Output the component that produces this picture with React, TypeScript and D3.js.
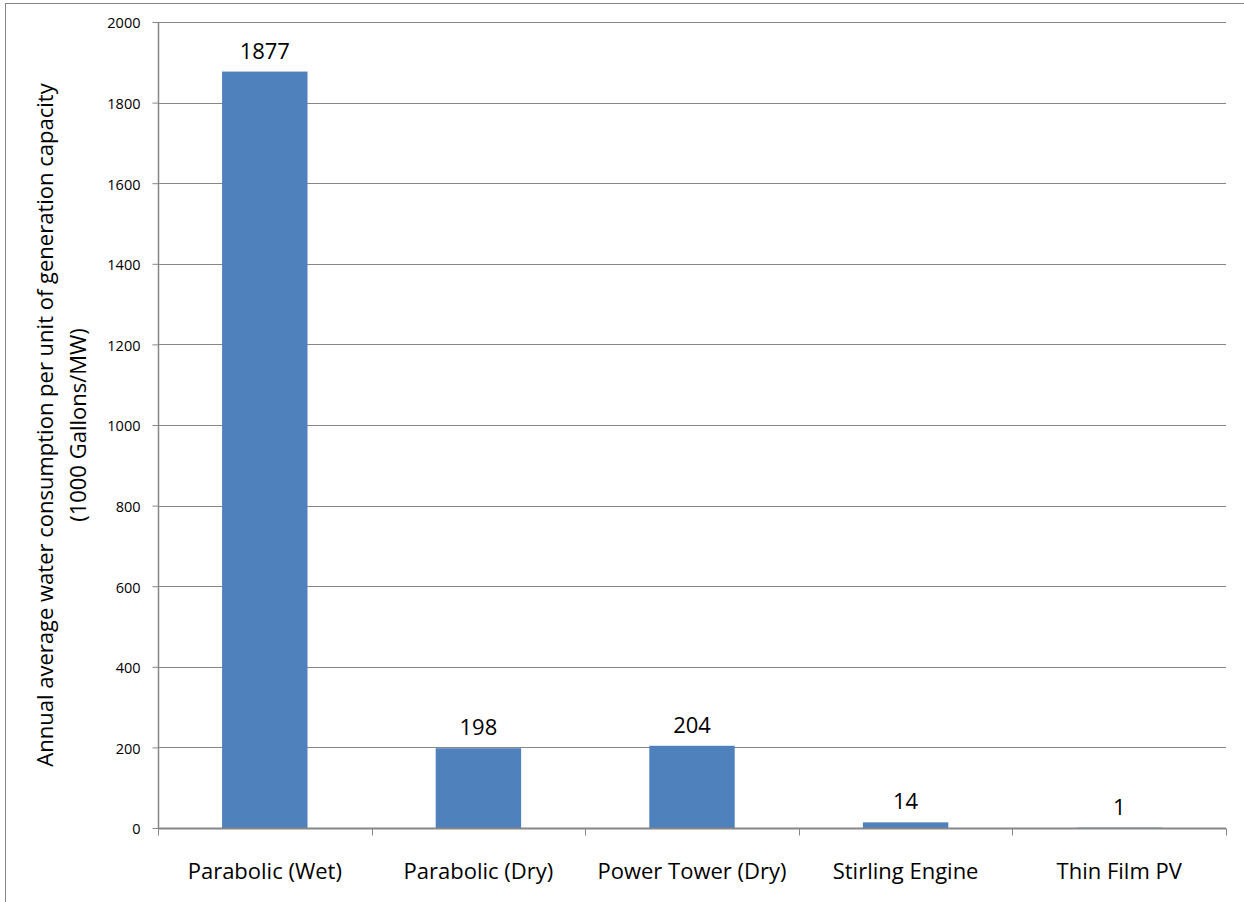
import { useEffect, useRef } from "react"
import * as d3 from "d3"

const categories = [
  "Parabolic (Wet)",
  "Parabolic (Dry)",
  "Power Tower (Dry)",
  "Stirling Engine",
  "Thin Film PV",
]
const values = [1877, 198, 204, 14, 1]
const yTicks = [0, 200, 400, 600, 800, 1000, 1200, 1400, 1600, 1800, 2000]
const yTitle = [
  "Annual average water consumption per unit of generation capacity",
  "(1000 Gallons/MW)",
]

export default function App() {
  const svgRef = useRef<SVGSVGElement | null>(null)

  useEffect(() => {
    if (!svgRef.current) return

    const width = 1244
    const height = 902
    const margin = { top: 22, right: 18, bottom: 74, left: 158 }
    const font = "'Open Sans', Lato, sans-serif"
    const gray = "#868686"

    const svg = d3.select(svgRef.current).attr("width", width).attr("height", height)
    svg.selectAll("*").remove()

    // outer frame (right/bottom edges fall outside the picture)
    svg
      .append("rect")
      .attr("x", 5.5)
      .attr("y", 3.5)
      .attr("width", width + 20)
      .attr("height", height + 20)
      .attr("fill", "white")
      .attr("stroke", gray)
      .attr("stroke-width", 1)

    const x = d3
      .scaleBand<string>()
      .domain(categories)
      .range([margin.left, width - margin.right])
      .paddingInner(0.6)
      .paddingOuter(0.3)

    const y = d3
      .scaleLinear()
      .domain([0, 2000])
      .range([height - margin.bottom, margin.top])

    // gridlines
    svg
      .append("g")
      .selectAll("line")
      .data(yTicks.filter(t => t > 0))
      .join("line")
      .attr("x1", margin.left)
      .attr("x2", width - margin.right)
      .attr("y1", d => Math.round(y(d)) + 0.5)
      .attr("y2", d => Math.round(y(d)) + 0.5)
      .attr("stroke", gray)
      .attr("stroke-width", 1)

    // bars
    svg
      .append("g")
      .selectAll("rect")
      .data(values)
      .join("rect")
      .attr("x", (_, i) => x(categories[i]) ?? 0)
      .attr("width", x.bandwidth())
      .attr("y", d => y(d))
      .attr("height", d => y(0) - y(d))
      .attr("fill", "#4F81BD")

    // data labels
    svg
      .append("g")
      .selectAll("text")
      .data(values)
      .join("text")
      .attr("x", (_, i) => (x(categories[i]) ?? 0) + x.bandwidth() / 2)
      .attr("y", d => y(d) - 13)
      .attr("text-anchor", "middle")
      .attr("font-family", font)
      .attr("font-size", 22)
      .attr("fill", "#000")
      .text(d => d)

    // Y axis
    const yAxis = svg
      .append("g")
      .attr("transform", `translate(${margin.left + 0.5}, 0)`)
      .call(
        d3
          .axisLeft(y)
          .tickValues(yTicks)
          .tickFormat(d3.format("d"))
          .tickSize(6)
          .tickPadding(12)
      )
    yAxis.select(".domain").attr("stroke", gray).attr("stroke-width", 1.5).attr("d", `M0,${y(2000)}V${y(0)}`)
    yAxis.selectAll(".tick line").attr("stroke", gray)
    yAxis
      .selectAll(".tick text")
      .attr("font-family", font)
      .attr("font-size", 14.5)
      .attr("dy", "0.4em")
      .attr("fill", "#000")

    // X axis
    const base = Math.round(y(0)) + 0.5
    const xg = svg.append("g")
    xg.append("line")
      .attr("x1", margin.left)
      .attr("x2", width - margin.right)
      .attr("y1", base)
      .attr("y2", base)
      .attr("stroke", gray)
      .attr("stroke-width", 2)
    const step = x.step()
    const edges = d3.range(categories.length + 1).map(i => margin.left + i * step)
    xg.selectAll("line.tick")
      .data(edges)
      .join("line")
      .attr("class", "tick")
      .attr("x1", d => Math.round(d) + 0.5)
      .attr("x2", d => Math.round(d) + 0.5)
      .attr("y1", base)
      .attr("y2", base + 7)
      .attr("stroke", gray)
    xg.selectAll("text")
      .data(categories)
      .join("text")
      .attr("x", d => (x(d) ?? 0) + x.bandwidth() / 2)
      .attr("y", 879)
      .attr("text-anchor", "middle")
      .attr("font-family", font)
      .attr("font-size", 22)
      .attr("fill", "#000")
      .text(d => d)

    // Y title
    const cy = (y(0) + y(2000)) / 2
    svg
      .append("g")
      .selectAll("text")
      .data(yTitle)
      .join("text")
      .attr("transform", (_, i) => `translate(${53 + i * 33}, ${cy}) rotate(-90)`)
      .attr("text-anchor", "middle")
      .attr("font-family", font)
      .attr("font-size", 22)
      .attr("fill", "#000")
      .text(d => d)
  }, [])

  return (
    <div style={{ position: "absolute", left: 0, top: 0 }}>
      <svg ref={svgRef} style={{ display: "block" }} />
    </div>
  )
}
